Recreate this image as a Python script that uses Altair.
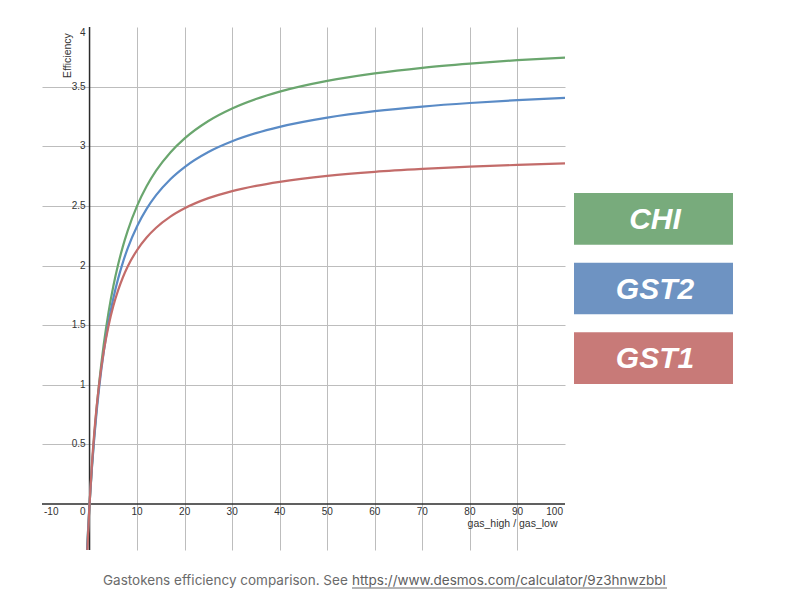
import altair as alt
import pandas as pd

# ---- data ----
X = [-0.6, -0.3, 0, 0.5, 1, 1.5, 2, 3, 4, 5, 6, 7, 8, 10, 12, 14, 17, 20, 25, 30, 35, 40, 50, 60, 70, 80, 90, 100]
CHI = [-0.453, -0.214, 0, 0.312, 0.578, 0.809, 1.009, 1.343, 1.609, 1.826, 2.006, 2.159, 2.289, 2.500, 2.664, 2.795,
       2.948, 3.066, 3.212, 3.317, 3.396, 3.458, 3.548, 3.611, 3.658, 3.693, 3.722, 3.744]
GST2 = [-0.448, -0.211, 0, 0.304, 0.560, 0.779, 0.969, 1.281, 1.526, 1.725, 1.888, 2.025, 2.142, 2.330, 2.475, 2.590,
        2.724, 2.826, 2.952, 3.042, 3.110, 3.163, 3.240, 3.294, 3.333, 3.363, 3.387, 3.406]
GST1 = [-0.534, -0.245, 0, 0.335, 0.601, 0.819, 1.000, 1.284, 1.496, 1.661, 1.792, 1.900, 1.990, 2.130, 2.235, 2.317,
        2.410, 2.480, 2.565, 2.624, 2.668, 2.702, 2.752, 2.786, 2.810, 2.829, 2.844, 2.856]

SERIES = ["CHI", "GST2", "GST1"]
LINE_COLORS = ["#6aa66e", "#5a8bc6", "#c36c6a"]
BOX_COLORS = ["#78ab7c", "#6e93c2", "#c87a78"]

X_DOMAIN = [-10, 100]
Y_DOMAIN = [-0.385, 4.0]
X_GRID = [10, 20, 30, 40, 50, 60, 70, 80, 90]
Y_GRID = [0.5, 1, 1.5, 2, 2.5, 3, 3.5]
X_LABEL_FIRST = [-10]
X_LABELS_MID = [10, 20, 30, 40, 50, 60, 70, 80, 90]
X_LABEL_LAST = [100]
Y_LABELS_MID = [0.5, 1, 1.5, 2, 2.5, 3, 3.5]
Y_LABEL_TOP = [4]
ORIGIN_LABEL = [0]
ZERO = [0]

X_TITLE = "gas_high / gas_low"
Y_TITLE = "Efficiency"
CAPTION = ["Gastokens efficiency comparison. See"]
CAPTION_LINK = ["https://www.desmos.com/calculator/9z3hnwzbbl"]

W, H = 523, 523
FONT = "Liberation Sans"
TICK_COLOR = "#333333"

curves = pd.DataFrame({
    "x": X * 3,
    "y": CHI + GST2 + GST1,
    "series": ["CHI"] * len(X) + ["GST2"] * len(X) + ["GST1"] * len(X),
    "order": [0] * len(X) + [1] * len(X) + [2] * len(X),
})

xs = alt.Scale(domain=X_DOMAIN, nice=False, zero=False)
ys = alt.Scale(domain=Y_DOMAIN, nice=False, zero=False)

x_axis = alt.Axis(values=X_GRID, grid=True, labels=False, ticks=False, domain=False,
                  gridColor="#bdbdbd", gridWidth=1, gridOpacity=1,
                  title=X_TITLE, titleX=515, titleY=-24, titleAlign="right",
                  titleBaseline="alphabetic", titleFont=FONT, titleFontSize=10.5,
                  titleFontWeight="normal", titleColor=TICK_COLOR)
y_axis = alt.Axis(values=Y_GRID, grid=True, labels=False, ticks=False, domain=False,
                  gridColor="#bdbdbd", gridWidth=1, gridOpacity=1,
                  title=Y_TITLE, titleX=25, titleY=28, titleAngle=270, titleAlign="center",
                  titleBaseline="middle", titleFont=FONT, titleFontSize=10.5,
                  titleFontWeight="normal", titleColor=TICK_COLOR)

lines = alt.Chart(curves).mark_line(interpolate="monotone", strokeWidth=2.2, clip=True).encode(
    x=alt.X("x:Q", scale=xs, axis=x_axis),
    y=alt.Y("y:Q", scale=ys, axis=y_axis),
    color=alt.Color("series:N", scale=alt.Scale(domain=SERIES, range=LINE_COLORS), legend=None),
    order=alt.Order("order:Q"),
)

zero_v = alt.Chart(pd.DataFrame({"v": ZERO})).mark_rule(color="#2b2b2b", strokeWidth=1.5).encode(
    x=alt.X("v:Q", scale=xs)
)
zero_h = alt.Chart(pd.DataFrame({"v": ZERO})).mark_rule(color="#2b2b2b", strokeWidth=1.5).encode(
    y=alt.Y("v:Q", scale=ys)
)


def xlabels(vals, align, dx):
    df = pd.DataFrame({"v": vals, "z": [0] * len(vals), "t": [str(v) for v in vals]})
    return alt.Chart(df).mark_text(align=align, baseline="top", dx=dx, dy=3, font=FONT,
                                   fontSize=10, color=TICK_COLOR).encode(
        x=alt.X("v:Q", scale=xs), y=alt.Y("z:Q", scale=ys), text="t:N")


def ylabels(vals, baseline, dy):
    df = pd.DataFrame({"v": vals, "z": [0] * len(vals), "t": [("%g" % v) for v in vals]})
    return alt.Chart(df).mark_text(align="right", baseline=baseline, dx=-4, dy=dy, font=FONT,
                                   fontSize=10, color=TICK_COLOR).encode(
        x=alt.X("z:Q", scale=xs), y=alt.Y("v:Q", scale=ys), text="t:N")


xl_first = xlabels(X_LABEL_FIRST, "left", 2)
xl_mid = xlabels(X_LABELS_MID, "center", 0)
xl_last = xlabels(X_LABEL_LAST, "right", -2)
yl_mid = ylabels(Y_LABELS_MID, "middle", 0)
yl_top = ylabels(Y_LABEL_TOP, "top", 1)
origin = alt.Chart(pd.DataFrame({"v": ORIGIN_LABEL, "t": [str(v) for v in ORIGIN_LABEL]})).mark_text(
    align="right", baseline="top", dx=-4, dy=3, font=FONT, fontSize=10, color=TICK_COLOR).encode(
    x=alt.X("v:Q", scale=xs), y=alt.Y("v:Q", scale=ys), text="t:N")

plot = alt.layer(zero_v, zero_h, lines, xl_first, xl_mid, xl_last, yl_mid, yl_top, origin)

# ---- custom legend boxes ----
leg_df = pd.DataFrame({"name": SERIES})
band = alt.Scale(domain=SERIES, range=[166, 357], paddingInner=0.257, paddingOuter=0)
boxes = alt.Chart(leg_df).mark_rect().encode(
    x=alt.value(532), x2=alt.value(691),
    y=alt.Y("name:N", scale=band, axis=None),
    color=alt.Color("name:N", scale=alt.Scale(domain=SERIES, range=BOX_COLORS), legend=None),
)
box_text = alt.Chart(leg_df).mark_text(font=FONT, fontSize=30, fontWeight="bold", fontStyle="italic",
                                       color="white", align="center", baseline="middle", dy=1).encode(
    x=alt.value(613),
    y=alt.Y("name:N", scale=band, axis=None),
    text="name:N",
)
legend = alt.layer(boxes, box_text)

# ---- caption ----
cap1 = alt.Chart(pd.DataFrame({"t": CAPTION})).mark_text(
    align="left", baseline="middle", font="Inter", fontSize=13.5, color="#6b6b6b").encode(
    x=alt.value(61), y=alt.value(554), text="t:N")
cap2 = alt.Chart(pd.DataFrame({"t": CAPTION_LINK})).mark_text(
    align="left", baseline="middle", font="Inter", fontSize=13.5, color="#5e5e5e").encode(
    x=alt.value(310), y=alt.value(554), text="t:N")
underline = alt.Chart(pd.DataFrame({"t": CAPTION_LINK})).mark_rule(color="#6b6b6b", strokeWidth=1).encode(
    x=alt.value(310), x2=alt.value(625), y=alt.value(561))
caption = alt.layer(cap1, cap2, underline)

chart = alt.layer(plot, legend, caption).resolve_scale(
    y="independent", color="independent"
).properties(
    width=W, height=H,
    autosize=alt.AutoSizeParams(type="none"),
    padding={"left": 42, "top": 27, "right": 235, "bottom": 50},
    background="white",
).configure_view(stroke=None)

chart.save("out.html", embed_options={"renderer": "svg", "actions": False})
